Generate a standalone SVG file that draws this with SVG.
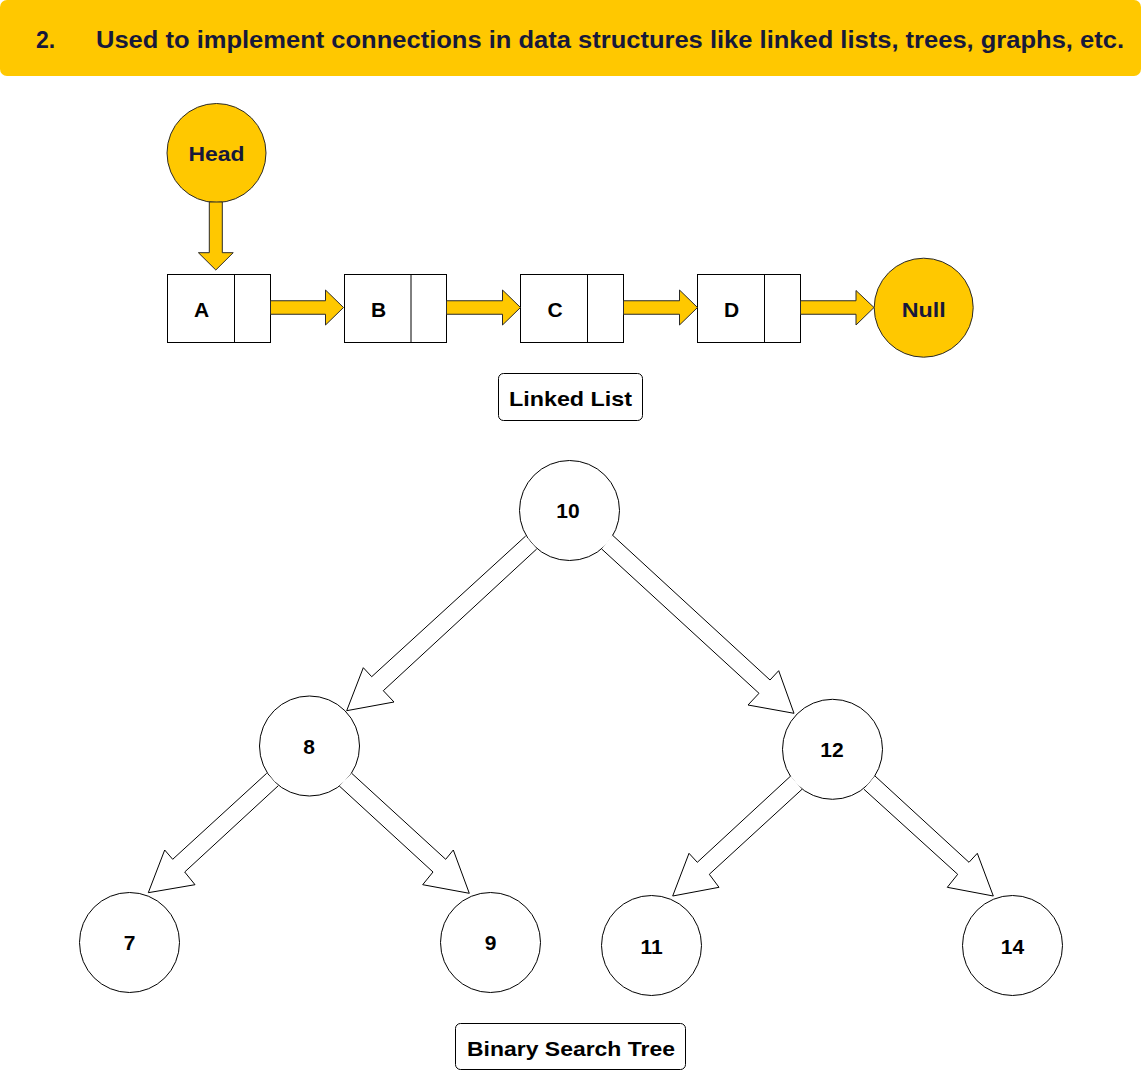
<svg xmlns="http://www.w3.org/2000/svg" width="1141" height="1071" viewBox="0 0 1141 1071">
  <style>
    .hdr { fill: #FFC800; }
    .hdrtxt { font-family: "Liberation Sans", Arial, sans-serif; font-weight: bold; font-size: 23px; fill: #17193a; }
    .ycirc { fill: #FFC800; stroke: #2a2a2a; stroke-width: 1; }
    .wcirc { fill: #FFFFFF; stroke: #000000; stroke-width: 1; }
    .box { fill: #FFFFFF; stroke: #000000; stroke-width: 1; }
    .yarrow { fill: #FFC800; stroke: #2a2a2a; stroke-width: 1; stroke-linejoin: miter; }
    .tarrow { fill: #FFFFFF; stroke: #000000; stroke-width: 1; stroke-linejoin: miter; }
    .lbl { font-family: "Liberation Sans", Arial, sans-serif; font-weight: bold; font-size: 21px; fill: #000000; text-anchor: middle; }
    .nav { fill: #17193a; }
    .cap { fill: #FFFFFF; stroke: #000000; stroke-width: 1; }
  </style>

  <g id="header">
    <rect class="hdr" x="0" y="0" width="1141" height="76" rx="7" ry="7"/>
    <text class="hdrtxt" x="36" y="48">2.</text>
    <text class="hdrtxt" x="96" y="48" textLength="1028" lengthAdjust="spacingAndGlyphs">Used to implement connections in data structures like linked lists, trees, graphs, etc.</text>
  </g>

  <!-- Linked list nodes -->
  <g id="node-head">
    <circle class="ycirc" cx="216.5" cy="153" r="49.5"/>
    <text class="lbl nav" x="216.5" y="161" textLength="56" lengthAdjust="spacingAndGlyphs">Head</text>
  </g>
  <g id="node-a">
    <rect class="box" x="167.5" y="274.5" width="103" height="68"/>
    <line class="box" x1="234.5" y1="274.5" x2="234.5" y2="342.5"/>
    <text class="lbl" x="201.5" y="316.5">A</text>
  </g>
  <g id="node-b">
    <rect class="box" x="344.5" y="274.5" width="102" height="68"/>
    <line class="box" x1="411" y1="274.5" x2="411" y2="342.5"/>
    <text class="lbl" x="378.5" y="316.5">B</text>
  </g>
  <g id="node-c">
    <rect class="box" x="520.5" y="274.5" width="103" height="68"/>
    <line class="box" x1="587.5" y1="274.5" x2="587.5" y2="342.5"/>
    <text class="lbl" x="555" y="316.5">C</text>
  </g>
  <g id="node-d">
    <rect class="box" x="697.5" y="274.5" width="103" height="68"/>
    <line class="box" x1="764.5" y1="274.5" x2="764.5" y2="342.5"/>
    <text class="lbl" x="731.5" y="316.5">D</text>
  </g>
  <g id="node-null">
    <circle class="ycirc" cx="923.7" cy="307.7" r="49.5"/>
    <text class="lbl nav" x="923.7" y="316.5" textLength="44" lengthAdjust="spacingAndGlyphs">Null</text>
  </g>
  <g id="label-linked-list">
    <rect class="cap" x="498.5" y="373.5" width="144" height="47" rx="5" ry="5"/>
    <text class="lbl" x="570.5" y="405.5" textLength="123" lengthAdjust="spacingAndGlyphs">Linked List</text>
  </g>

  <!-- Tree nodes -->
  <g id="node-10">
    <circle class="wcirc" cx="569.5" cy="510.5" r="50"/>
    <text class="lbl" x="568" y="517.5">10</text>
  </g>
  <g id="node-8">
    <circle class="wcirc" cx="309.5" cy="746" r="50"/>
    <text class="lbl" x="309" y="753.5">8</text>
  </g>
  <g id="node-12">
    <circle class="wcirc" cx="832.5" cy="749.3" r="50"/>
    <text class="lbl" x="832" y="756.5">12</text>
  </g>
  <g id="node-7">
    <circle class="wcirc" cx="129.5" cy="942.5" r="50"/>
    <text class="lbl" x="129.5" y="950">7</text>
  </g>
  <g id="node-9">
    <circle class="wcirc" cx="490.5" cy="942.5" r="50"/>
    <text class="lbl" x="490.5" y="950">9</text>
  </g>
  <g id="node-11">
    <circle class="wcirc" cx="651.5" cy="945.5" r="50"/>
    <text class="lbl" x="651.5" y="953.5">11</text>
  </g>
  <g id="node-14">
    <circle class="wcirc" cx="1012.5" cy="945.5" r="50"/>
    <text class="lbl" x="1012.5" y="953.5">14</text>
  </g>
  <g id="label-bst">
    <rect class="cap" x="455.5" y="1023.5" width="230" height="46" rx="5" ry="5"/>
    <text class="lbl" x="571" y="1055.5" textLength="208" lengthAdjust="spacingAndGlyphs">Binary Search Tree</text>
  </g>

  <!-- Connectors -->
  <g id="connectors">
    <polygon class="yarrow" points="209.3,202 222.3,202 222.3,252.7 233.2,252.7 215.8,270 198.4,252.7 209.3,252.7"/>
    <polygon class="yarrow" points="270.5,300.75 325.5,300.75 325.5,290 343.5,307.5 325.5,325 325.5,314.25 270.5,314.25"/>
    <polygon class="yarrow" points="446.5,300.75 502.5,300.75 502.5,290 520.5,307.5 502.5,325 502.5,314.25 446.5,314.25"/>
    <polygon class="yarrow" points="623.5,300.75 679.5,300.75 679.5,290 697.5,307.5 679.5,325 679.5,314.25 623.5,314.25"/>
    <polygon class="yarrow" points="800.5,300.75 856,300.75 856,290.5 874,307.5 856,325 856,314.25 800.5,314.25"/>

    <path class="tarrow" d="M525.7,536 L371.7,676.7 L363.3,667.7 L346.7,710.7 L394,702 L383.3,690.7 L536.7,549"/>
    <path class="tarrow" d="M612.3,535 L770,680 L778.7,670.7 L794,713.3 L748,705 L759,693.3 L601.7,549"/>
    <path class="tarrow" d="M266.7,773.3 L172.7,859.3 L164.7,850 L148.3,892.7 L195,884.7 L184.7,872 L278.3,785.7"/>
    <path class="tarrow" d="M351.7,773.3 L445.7,859.3 L453.3,850 L469.3,893.3 L422.7,884.7 L433,872 L339.3,786"/>
    <path class="tarrow" d="M790.7,776 L697.3,862.3 L689,853.3 L672.7,896 L719,887.3 L709.3,874.3 L802,789.3"/>
    <path class="tarrow" d="M875,776 L969,862.3 L977.3,853.3 L993.3,896 L947.3,887.3 L957.7,874.3 L864,789.3"/>
  </g>
</svg>
